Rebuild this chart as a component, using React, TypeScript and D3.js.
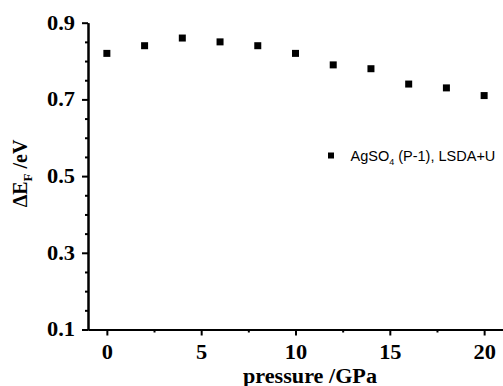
import React, { useEffect, useRef } from 'react';
import * as d3 from 'd3';

const pressures = [0, 2, 4, 6, 8, 10, 12, 14, 16, 18, 20];
const deltaEF = [0.82, 0.84, 0.86, 0.85, 0.84, 0.82, 0.79, 0.78, 0.74, 0.73, 0.71];
const xMajorTicks = [0, 5, 10, 15, 20];
const xMinorTicks = [2.5, 7.5, 12.5, 17.5];
const yMajorTicks = [0.1, 0.3, 0.5, 0.7, 0.9];
const yMinorTicks = [0.15, 0.2, 0.25, 0.35, 0.4, 0.45, 0.55, 0.6, 0.65, 0.75, 0.8, 0.85];

const serif = '"Liberation Serif", "Times New Roman", serif';

export default function App() {
  const ref = useRef<SVGSVGElement | null>(null);

  useEffect(() => {
    if (!ref.current) return;
    document.body.style.margin = '0';
    const width = 503;
    const height = 386;
    const svg = d3.select(ref.current);
    svg.selectAll('*').remove();
    svg.attr('width', width).attr('height', height);

    const x = d3.scaleLinear().domain([-1, 21]).range([88, 503]);
    const y = d3.scaleLinear().domain([0.1, 0.9]).range([329.5, 22.7]);
    const baseY = y(0.1);
    const axisX = x(-1);

    // minor ticks first (no labels)
    svg.append('g')
      .attr('transform', `translate(0,${baseY})`)
      .call(d3.axisBottom(x).tickValues(xMinorTicks).tickSize(3).tickSizeOuter(0).tickFormat(() => ''));
    svg.append('g')
      .attr('transform', `translate(${axisX},0)`)
      .call(d3.axisLeft(y).tickValues(yMinorTicks).tickSize(3).tickSizeOuter(0).tickFormat(() => ''));

    const gx = svg.append('g')
      .attr('transform', `translate(0,${baseY})`)
      .call(d3.axisBottom(x).tickValues(xMajorTicks).tickSize(6).tickSizeOuter(0).tickPadding(9).tickFormat(d => String(d)));
    const gy = svg.append('g')
      .attr('transform', `translate(${axisX},0)`)
      .call(d3.axisLeft(y).tickValues(yMajorTicks).tickSize(6).tickSizeOuter(0).tickPadding(7).tickFormat(d3.format('.1f')));

    svg.selectAll('.domain, .tick line').attr('stroke', '#000').attr('stroke-width', 2);
    [gx, gy].forEach(g => {
      g.selectAll('text')
        .attr('fill', '#000')
        .style('font-family', serif)
        .style('font-weight', 'bold')
        .style('font-size', '20px');
    });

    // horizontally stretched glyphs like the source
    svg.selectAll<SVGTextElement, unknown>('.tick text').each(function () {
      const w = this.getComputedTextLength();
      if (w > 0) d3.select(this).attr('textLength', w * 1.12).attr('lengthAdjust', 'spacingAndGlyphs');
    });

    // points
    const size = 7;
    svg.append('g')
      .selectAll('rect')
      .data(pressures.map((p, i) => ({ p, v: deltaEF[i] })))
      .join('rect')
      .attr('x', d => x(d.p) - size / 2)
      .attr('y', d => y(d.v) - size / 2)
      .attr('width', size)
      .attr('height', size)
      .attr('fill', '#000');

    // legend
    const lg = svg.append('g');
    lg.append('rect')
      .attr('x', 328).attr('y', 152.5).attr('width', 6).attr('height', 6).attr('fill', '#000');
    const lt = lg.append('text')
      .attr('x', 350.5).attr('y', 160.5)
      .style('font-family', '"Liberation Sans", Arial, sans-serif')
      .style('font-size', '14.5px')
      .attr('fill', '#000');
    lt.append('tspan').text('AgSO');
    lt.append('tspan').attr('dy', 4).style('font-size', '9px').text('4');
    lt.append('tspan').attr('dy', -4).text(' (P-1), LSDA+U');

    // x title
    const xt = svg.append('text')
      .attr('x', 310).attr('y', 383)
      .attr('text-anchor', 'middle')
      .style('font-family', serif)
      .style('font-weight', 'bold')
      .style('font-size', '20px')
      .attr('fill', '#000')
      .text('pressure /GPa');
    xt.attr('textLength', 134).attr('lengthAdjust', 'spacingAndGlyphs');

    // y title
    const yt = svg.append('text')
      .attr('transform', 'translate(26.5,173.5) rotate(-90)')
      .attr('text-anchor', 'middle')
      .style('font-family', serif)
      .style('font-weight', 'bold')
      .style('font-size', '20px')
      .attr('fill', '#000');
    yt.append('tspan').text('ΔE');
    yt.append('tspan').attr('dy', 5).style('font-size', '13px').text('F');
    yt.append('tspan').attr('dy', -5).text(' /eV');
  }, []);

  return <svg ref={ref} style={{ display: 'block', position: 'absolute', left: 0, top: 0 }} />;
}
